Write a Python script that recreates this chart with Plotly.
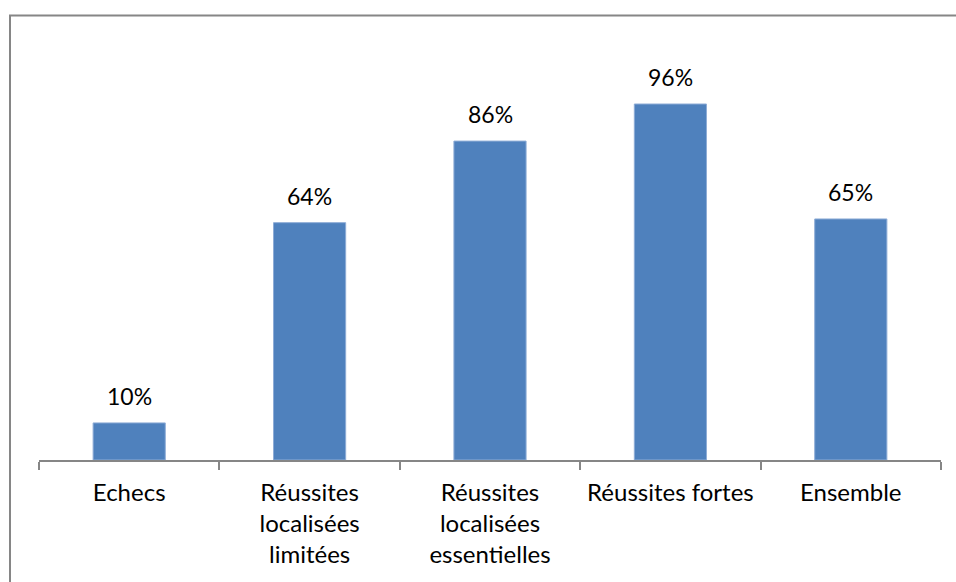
import plotly.graph_objects as go

categories = [
    "Echecs",
    "Réussites<br>localisées<br>limitées",
    "Réussites<br>localisées<br>essentielles",
    "Réussites fortes",
    "Ensemble",
]
values = [0.10, 0.64, 0.86, 0.96, 0.65]
value_labels = [f"{round(v * 100)}%" for v in values]

W, H = 956, 582
L, R, T, B = 39, 15, 15, 122
plot_w = W - L - R
plot_h = H - T - B

FONT = "Lato"
GRAY = "#868686"

fig = go.Figure(
    go.Bar(
        x=categories,
        y=values,
        width=0.4,
        marker=dict(color="#4F81BD", line=dict(color="#8EACD6", width=1)),
        hoverinfo="skip",
    )
)

for cat, v, lab in zip(categories, values, value_labels):
    fig.add_annotation(
        x=cat, y=v, text=lab, showarrow=False,
        yanchor="bottom", yshift=11,
        font=dict(family=FONT, size=23, color="#000000"),
    )

# outer chart frame (left and top edges visible)
px = lambda x: (x - L) / plot_w
py = lambda y: (H - B - y) / plot_h
fig.add_shape(type="line", xref="paper", yref="paper",
              x0=px(10), x1=px(10), y0=py(15.5), y1=py(600),
              line=dict(color=GRAY, width=2))
fig.add_shape(type="line", xref="paper", yref="paper",
              x0=px(9), x1=px(980), y0=py(15.5), y1=py(15.5),
              line=dict(color=GRAY, width=2))

fig.update_layout(
    width=W, height=H,
    margin=dict(l=L, r=R, t=T, b=B),
    paper_bgcolor="white", plot_bgcolor="white",
    showlegend=False,
    font=dict(family=FONT, size=23, color="#000000"),
    xaxis=dict(
        type="category",
        tickson="boundaries",
        ticks="outside", ticklen=8, tickwidth=2, tickcolor=GRAY,
        showline=True, linecolor=GRAY, linewidth=2,
        showgrid=False, zeroline=False,
        ticklabelstandoff=10,
        tickfont=dict(family=FONT, size=24, color="#000000"),
        range=[-0.5, 4.5],
    ),
    yaxis=dict(
        range=[0, 1.2],
        visible=False,
        showgrid=False, zeroline=False,
    ),
)

fig.write_html("out.html")
